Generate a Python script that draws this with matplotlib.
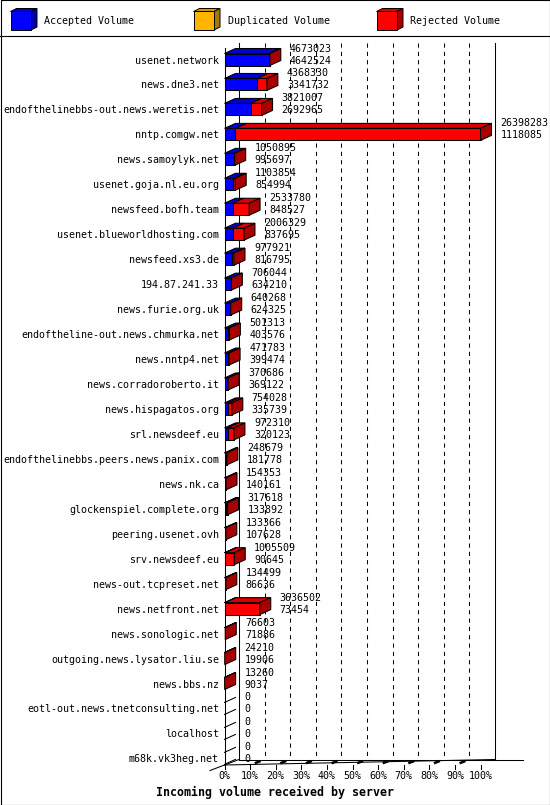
import matplotlib
matplotlib.use('Agg')
import matplotlib.pyplot as plt
from matplotlib.patches import Rectangle, Polygon
import numpy as np

# servers, top number = total volume, bottom number = accepted volume
hosts = ['usenet.network', 'news.dne3.net', 'endofthelinebbs-out.news.weretis.net',
         'nntp.comgw.net', 'news.samoylyk.net', 'usenet.goja.nl.eu.org',
         'newsfeed.bofh.team', 'usenet.blueworldhosting.com', 'newsfeed.xs3.de',
         '194.87.241.33', 'news.furie.org.uk', 'endoftheline-out.news.chmurka.net',
         'news.nntp4.net', 'news.corradoroberto.it', 'news.hispagatos.org',
         'srl.newsdeef.eu', 'endofthelinebbs.peers.news.panix.com', 'news.nk.ca',
         'glockenspiel.complete.org', 'peering.usenet.ovh', 'srv.newsdeef.eu',
         'news-out.tcpreset.net', 'news.netfront.net', 'news.sonologic.net',
         'outgoing.news.lysator.liu.se', 'news.bbs.nz',
         'eotl-out.news.tnetconsulting.net', 'localhost', 'm68k.vk3heg.net']
total = [4673023, 4368330, 3821007, 26398283, 1050895, 1103854, 2533780, 2006329,
         977921, 706044, 640268, 501313, 471783, 370686, 754028, 972310, 248679,
         154353, 317618, 133366, 1005509, 134499, 3636502, 76603, 24210, 13260, 0, 0, 0]
accepted = [4642524, 3341732, 2692965, 1118085, 995697, 854994, 848527, 837695,
            816795, 634210, 624325, 403576, 399474, 369122, 335739, 320123, 181778,
            140161, 133892, 107628, 90645, 86636, 73454, 71886, 19906, 9037, 0, 0, 0]
duplicated = [0] * len(hosts)
xticks = list(range(0, 101, 10))
xticklabels = ['{}%'.format(t) for t in xticks]

legend_names = ['Accepted Volume', 'Duplicated Volume', 'Rejected Volume']
# front, top, side
colors = [('#0000ff', '#0000d0', '#0000a8'),
          ('#ffb400', '#d89800', '#a87800'),
          ('#ff0000', '#d80000', '#a80000')]

# layout (pixels)
W, H = 550, 805
X0, X100 = 224.5, 480.5
ROW0, ROW_STEP = 59.5, 24.96
TOP, FLOOR = 48, 765
BAR_H = 12
BAR_D = (11, 5)
WALL_D = (14.5, 5.5)
MONO = 'DejaVu Sans Mono'
FS = 7.2

ppx = (X100 - X0) / 100.0
ppy = ROW_STEP

fig = plt.figure(figsize=(W / 100, H / 100), dpi=100)
bg = fig.add_axes([0, 0, 1, 1])
bg.set_xlim(0, W)
bg.set_ylim(H, 0)
bg.axis('off')
bg.add_patch(Rectangle((0.5, 0.5), W - 1, H - 1, fill=False, lw=0.8, ec='black'))
bg.plot([0, W], [36.5, 36.5], color='black', lw=0.8)

# legend
for k, name in enumerate(legend_names):
    lx = 10.5 + 183 * k
    fr, tp, sd = colors[k]
    bg.add_patch(Polygon([(lx, 11.5), (lx + 20.5, 11.5), (lx + 26.5, 8.5), (lx + 6, 8.5)],
                         fc=tp, ec='black', lw=0.7))
    bg.add_patch(Polygon([(lx + 20.5, 11.5), (lx + 20.5, 30), (lx + 26.5, 27), (lx + 26.5, 8.5)],
                         fc=sd, ec='black', lw=0.7))
    bg.add_patch(Rectangle((lx, 11.5), 20.5, 18.5, fc=fr, ec='black', lw=0.7))
    bg.text(lx + 34, 21, name, family=MONO, fontsize=FS, va='center', ha='left')

ax = fig.add_axes([X0 / W, 1 - FLOOR / H, (X100 - X0) / W, (FLOOR - TOP) / H])
ax.patch.set_visible(False)
for s in ax.spines.values():
    s.set_visible(False)
ax.set_xlim(0, 100)
y_floor = (FLOOR - ROW0) / ppy
y_top = (TOP - ROW0) / ppy
ax.set_ylim(y_floor, y_top)

wdx, wdy = WALL_D[0] / ppx, WALL_D[1] / ppy
bdx, bdy = BAR_D[0] / ppx, BAR_D[1] / ppy
bh = BAR_H / ppy
lw = 0.75

# walls and grid
ax.plot([0, 0], [y_top, y_floor], color='black', lw=lw, clip_on=False, zorder=1)
for t in xticks:
    ls = '-' if t in (0, 100) else (0, (4, 4))
    ax.plot([t + wdx, t + wdx], [y_top - wdy, y_floor - wdy], color='black', lw=lw,
            ls=ls, clip_on=False, zorder=1)
ax.plot([wdx, (523 - X0) / ppx], [y_floor - wdy, y_floor - wdy], color='black', lw=lw,
        clip_on=False, zorder=1)
ax.plot([0, 100 + wdx], [y_floor, y_floor - wdy], color='black', lw=lw, clip_on=False, zorder=1)
ax.plot([-wdx, wdx], [y_floor + wdy, y_floor - wdy], color='black', lw=lw, clip_on=False, zorder=1)
for t in xticks:
    ax.plot([t, t], [y_floor, y_floor + 4 / ppy], color='black', lw=lw, clip_on=False, zorder=1)
    if 0 < t < 100:
        ax.plot([t + 0.4 * wdx, t + 0.65 * wdx], [y_floor - 0.4 * wdy, y_floor - 0.65 * wdy],
                color='black', lw=1.8, clip_on=False, zorder=1)

vmax = max(total)
for i in range(len(hosts)):
    top_y = i - bh / 2
    bot_y = i + bh / 2
    rej = total[i] - accepted[i] - duplicated[i]
    vals = [accepted[i], duplicated[i], rej]
    if total[i] == 0:
        for yy in (top_y, bot_y):
            ax.plot([0, bdx], [yy, yy - bdy], color='black', lw=lw, clip_on=False, zorder=2)
    else:
        x0 = 0.0
        last = None
        for k, v in enumerate(vals):
            if v <= 0:
                continue
            x1 = x0 + v / vmax * 100
            fr, tp, sd = colors[k]
            ax.add_patch(Polygon([(x0, top_y), (x1, top_y), (x1 + bdx, top_y - bdy),
                                  (x0 + bdx, top_y - bdy)], fc=tp, ec='black', lw=lw,
                                 clip_on=False, zorder=3))
            ax.add_patch(Rectangle((x0, top_y), x1 - x0, bh, fc=fr, ec='black', lw=lw,
                                   clip_on=False, zorder=3))
            last = (x1, sd)
            x0 = x1
        x1, sd = last
        ax.add_patch(Polygon([(x1, top_y), (x1, bot_y), (x1 + bdx, bot_y - bdy),
                              (x1 + bdx, top_y - bdy)], fc=sd, ec='black', lw=lw,
                             clip_on=False, zorder=3))
    xe = total[i] / vmax * 100 + 20 / ppx
    ax.text(xe, i - 11 / ppy, str(total[i]), family=MONO, fontsize=FS,
            va='center', ha='left', zorder=4, clip_on=False)
    ax.text(xe, i + 1 / ppy, str(accepted[i]), family=MONO, fontsize=FS,
            va='center', ha='left', zorder=4, clip_on=False)

ax.set_yticks(range(len(hosts)))
ax.set_yticklabels(hosts, family=MONO, fontsize=FS)
ax.tick_params(axis='y', length=0, pad=4)
ax.set_xticks(xticks)
ax.set_xticklabels(xticklabels, family=MONO, fontsize=FS)
ax.tick_params(axis='x', length=0, pad=4.5)

fig.text(0.5, 1 - 792 / H, 'Incoming volume received by server', family=MONO,
         fontsize=8.4, weight='bold', ha='center', va='center')

fig.savefig('out.png', dpi=100)
